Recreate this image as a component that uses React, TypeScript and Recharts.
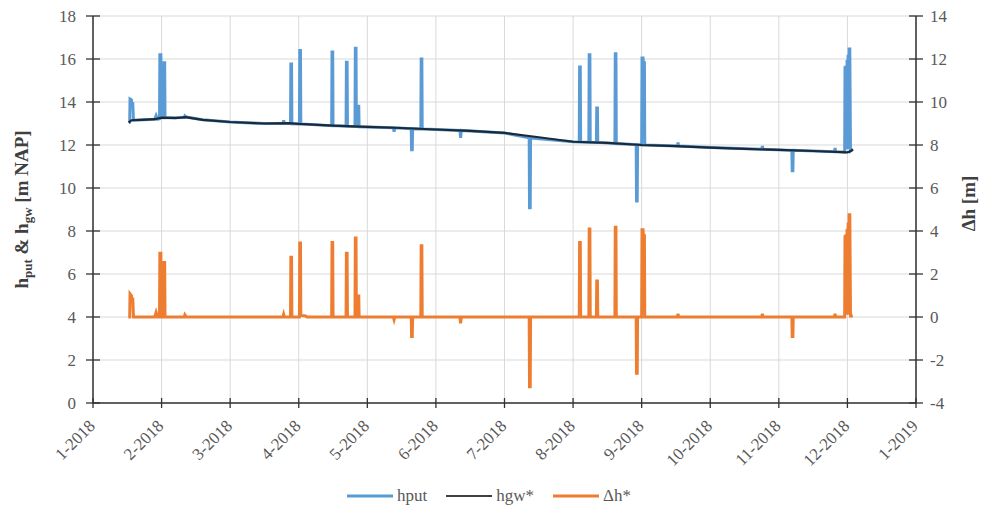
import React from 'react';
import { LineChart, Line, XAxis, YAxis, CartesianGrid, Legend } from 'recharts';

// x = months since 1-2018 (the axis spaces months evenly)
const monthLabels = ['1-2018', '2-2018', '3-2018', '4-2018', '5-2018', '6-2018', '7-2018', '8-2018', '9-2018', '10-2018', '11-2018', '12-2018', '1-2019'];
const leftTicks = [0, 2, 4, 6, 8, 10, 12, 14, 16, 18];
const rightTicks = [-4, -2, 0, 2, 4, 6, 8, 10, 12, 14];

const hgwPts: number[][] = [
  [0.52, 13.04], [0.56, 13.15], [0.7, 13.17], [0.9, 13.2], [1.0, 13.27], [1.2, 13.25], [1.35, 13.3],
  [1.6, 13.17], [2.0, 13.07], [2.5, 13.0], [2.85, 13.02], [3.0, 12.98], [3.5, 12.9], [4.0, 12.84],
  [4.5, 12.79], [5.0, 12.72], [5.5, 12.66], [6.0, 12.56], [6.5, 12.36], [7.0, 12.15], [7.5, 12.1],
  [8.0, 12.0], [8.5, 11.95], [9.0, 11.88], [9.5, 11.82], [10.0, 11.77], [10.5, 11.72], [11.0, 11.66],
  [11.05, 11.72], [11.08, 11.8],
];

const hputPts: number[][] = [
  [0.52, 13.04], [0.535, 13.06], [0.54, 14.14], [0.56, 14.1], [0.565, 13.93], [0.58, 13.93], [0.59, 13.15],
  [0.9, 13.2], [0.92, 13.37], [0.94, 13.2],
  [0.97, 13.22], [0.975, 16.2], [0.99, 16.2], [0.995, 13.27], [1.03, 13.27], [1.035, 15.82], [1.045, 15.82], [1.05, 13.27],
  [1.33, 13.28], [1.34, 13.35], [1.36, 13.3],
  [1.6, 13.17], [2.0, 13.07], [2.5, 13.0],
  [2.77, 13.0], [2.78, 13.15], [2.79, 13.0],
  [2.88, 13.0], [2.885, 15.77], [2.895, 15.77], [2.9, 12.99],
  [3.01, 12.98], [3.015, 16.4], [3.025, 16.4], [3.03, 12.98],
  [3.48, 12.9], [3.485, 16.33], [3.495, 16.33], [3.5, 12.9],
  [3.69, 12.88], [3.695, 15.85], [3.705, 15.85], [3.71, 12.87],
  [3.82, 12.86], [3.825, 16.5], [3.835, 16.5], [3.84, 12.86], [3.86, 12.86], [3.865, 13.8], [3.875, 13.8], [3.88, 12.85],
  [4.0, 12.84],
  [4.38, 12.8], [4.39, 12.62], [4.4, 12.8],
  [4.64, 12.76], [4.645, 11.78], [4.655, 11.78], [4.66, 12.76],
  [4.78, 12.75], [4.785, 16.0], [4.795, 16.0], [4.8, 12.74],
  [5.0, 12.72],
  [5.35, 12.68], [5.36, 12.33], [5.37, 12.68],
  [6.0, 12.56],
  [6.36, 12.34], [6.365, 9.08], [6.375, 9.08], [6.38, 12.32],
  [7.0, 12.15],
  [7.09, 12.14], [7.095, 15.63], [7.105, 15.63], [7.11, 12.14],
  [7.23, 12.13], [7.235, 16.2], [7.245, 16.2], [7.25, 12.13],
  [7.34, 12.12], [7.345, 13.72], [7.355, 13.72], [7.36, 12.12],
  [7.61, 12.07], [7.615, 16.25], [7.625, 16.25], [7.63, 12.07],
  [7.92, 12.02], [7.925, 9.4], [7.935, 9.4], [7.94, 12.02],
  [8.0, 12.0], [8.005, 16.05], [8.02, 16.05], [8.025, 15.82], [8.04, 15.82], [8.045, 12.0],
  [8.52, 11.95], [8.53, 12.12], [8.54, 11.95],
  [9.0, 11.88],
  [9.75, 11.8], [9.76, 11.95], [9.77, 11.8],
  [10.19, 11.75], [10.195, 10.8], [10.205, 10.8], [10.21, 11.75],
  [10.81, 11.69], [10.82, 11.86], [10.83, 11.69],
  [10.96, 11.67], [10.965, 15.66], [10.975, 11.8], [10.98, 15.7], [10.99, 11.8], [10.995, 15.97],
  [11.005, 11.8], [11.01, 16.2], [11.02, 11.8], [11.025, 16.47], [11.035, 16.47], [11.045, 11.72], [11.08, 11.8],
];

const dhPts: number[][] = [
  [0.515, 0], [0.535, 0], [0.54, 1.08], [0.56, 1.0], [0.565, 0.84], [0.58, 0.84], [0.59, 0],
  [0.9, 0], [0.92, 0.22], [0.94, 0],
  [0.97, 0], [0.975, 2.97], [0.99, 2.97], [0.995, 0], [1.03, 0], [1.035, 2.54], [1.045, 2.54], [1.05, 0],
  [1.33, 0], [1.34, 0.1], [1.36, 0],
  [2.77, 0], [2.78, 0.12], [2.79, 0],
  [2.88, 0], [2.885, 2.78], [2.895, 2.78], [2.9, 0],
  [3.01, 0], [3.015, 3.44], [3.025, 3.44], [3.03, 0.07], [3.1, 0.05], [3.12, 0],
  [3.48, 0], [3.485, 3.47], [3.495, 3.47], [3.5, 0],
  [3.69, 0], [3.695, 2.97], [3.705, 2.97], [3.71, 0],
  [3.82, 0], [3.825, 3.67], [3.835, 3.67], [3.84, 0], [3.86, 0], [3.865, 0.98], [3.875, 0.98], [3.88, 0],
  [4.38, 0], [4.39, -0.12], [4.4, 0],
  [4.64, 0], [4.645, -0.91], [4.655, -0.91], [4.66, 0],
  [4.78, 0], [4.785, 3.31], [4.795, 3.31], [4.8, 0],
  [5.35, 0], [5.36, -0.29], [5.37, 0],
  [6.36, 0], [6.365, -3.24], [6.375, -3.24], [6.38, 0],
  [7.09, 0], [7.095, 3.47], [7.105, 3.47], [7.11, 0],
  [7.23, 0], [7.235, 4.09], [7.245, 4.09], [7.25, 0],
  [7.34, 0], [7.345, 1.68], [7.355, 1.68], [7.36, 0],
  [7.61, 0], [7.615, 4.18], [7.625, 4.18], [7.63, 0],
  [7.92, 0], [7.925, -2.62], [7.935, -2.62], [7.94, 0],
  [8.0, 0], [8.005, 4.06], [8.02, 4.06], [8.025, 3.78], [8.04, 3.78], [8.045, 0],
  [8.52, 0], [8.53, 0.15], [8.54, 0],
  [9.75, 0], [9.76, 0.15], [9.77, 0],
  [10.19, 0], [10.195, -0.91], [10.205, -0.91], [10.21, 0],
  [10.81, 0], [10.82, 0.15], [10.83, 0],
  [10.96, 0], [10.965, 3.8], [10.975, 0.1], [10.98, 3.85], [10.99, 0.1], [10.995, 4.1],
  [11.005, 0.1], [11.01, 4.4], [11.02, 0.1], [11.025, 4.76], [11.035, 4.76], [11.045, 0.05], [11.08, 0.05],
];

const legendItems = [
  { name: 'hput', color: '#5b9bd5' },
  { name: 'hgw*', color: '#404040' },
  { name: 'Δh*', color: '#ed7d31' },
];

const toRows = (pts: number[][]) => pts.map(([t, v]) => ({ t, v }));

const FONT = '"Liberation Serif", "Times New Roman", serif';
const TICK_COLOR = '#595959';
const AXIS_COLOR = '#333333';

const XTick = (props: any) => {
  const { x, y, payload } = props;
  const label = monthLabels[payload.value];
  const tx = x + 3;
  const ty = y + 24;
  return (
    <g>
      <line x1={x} y1={y - 5} x2={x} y2={y + 5} stroke={AXIS_COLOR} strokeWidth={1.3} />
      <text x={tx} y={ty} transform={`rotate(-45, ${tx}, ${ty})`} textAnchor="end" fontSize={17} fontFamily={FONT} fill={TICK_COLOR}>
        {label}
      </text>
    </g>
  );
};

const LeftTick = (props: any) => {
  const { x, y, payload } = props;
  return (
    <g>
      <line x1={x - 7} y1={y} x2={x + 7} y2={y} stroke={AXIS_COLOR} strokeWidth={1.3} />
      <text x={x - 17} y={y} dy="0.35em" textAnchor="end" fontSize={17} fontFamily={FONT} fill={TICK_COLOR}>
        {payload.value}
      </text>
    </g>
  );
};

const RightTick = (props: any) => {
  const { x, y, payload } = props;
  return (
    <g>
      <line x1={x - 7} y1={y} x2={x + 7} y2={y} stroke={AXIS_COLOR} strokeWidth={1.3} />
      <text x={x + 14} y={y} dy="0.35em" textAnchor="start" fontSize={17} fontFamily={FONT} fill={TICK_COLOR}>
        {payload.value}
      </text>
    </g>
  );
};

const LeftTitle = (props: any) => {
  const vb = props.viewBox || { x: 0, y: 16, width: 93, height: 387 };
  const cx = vb.x + 21;
  const cy = vb.y + vb.height / 2;
  return (
    <text x={cx} y={cy} transform={`rotate(-90, ${cx}, ${cy})`} textAnchor="middle" dy="0.35em" fontSize={19} fontWeight="bold" fontFamily={FONT} fill="#404040">
      h<tspan fontSize={13} dy={4}>put</tspan>
      <tspan dy={-4}> &amp; h</tspan>
      <tspan fontSize={13} dy={4}>gw</tspan>
      <tspan dy={-4}> [m NAP]</tspan>
    </text>
  );
};

const RightTitle = (props: any) => {
  const vb = props.viewBox || { x: 916, y: 16, width: 71, height: 387 };
  const cx = vb.x + 52;
  const cy = vb.y + vb.height / 2 - 6;
  return (
    <text x={cx} y={cy} transform={`rotate(-90, ${cx}, ${cy})`} textAnchor="middle" dy="0.35em" fontSize={19} fontWeight="bold" fontFamily={FONT} fill="#404040">
      Δh [m]
    </text>
  );
};

const LegendContent = () => (
  <div style={{ display: 'flex', justifyContent: 'center', alignItems: 'center', height: 30, paddingLeft: 8, fontFamily: FONT, fontSize: 17, color: TICK_COLOR }}>
    {legendItems.map((item) => (
      <div key={item.name} style={{ display: 'flex', alignItems: 'center', marginRight: 18 }}>
        <svg width={48} height={6} style={{ marginRight: 3 }}>
          <line x1={1} y1={3} x2={47} y2={3} stroke={item.color} strokeWidth={item.name === 'hgw*' ? 2 : 3} />
        </svg>
        <span>{item.name}</span>
      </div>
    ))}
  </div>
);

export default function App() {
  return (
    <div style={{ position: 'absolute', left: 0, top: 0, width: 987, height: 511, background: '#fff' }}>
      <LineChart width={987} height={511} margin={{ top: 16, right: 0, bottom: 0, left: 0 }}>
        <CartesianGrid yAxisId="left" stroke="#d9d9d9" strokeWidth={1} />
        <XAxis
          dataKey="t"
          type="number"
          domain={[0, 12]}
          ticks={monthLabels.map((_, i) => i)}
          allowDataOverflow
          height={78}
          tick={<XTick />}
          tickLine={false}
          tickSize={0}
          tickMargin={0}
          axisLine={{ stroke: AXIS_COLOR, strokeWidth: 1.5 }}
          interval={0}
        />
        <YAxis
          yAxisId="left"
          orientation="left"
          domain={[0, 18]}
          ticks={leftTicks}
          width={93}
          tick={<LeftTick />}
          tickLine={false}
          tickSize={0}
          tickMargin={0}
          axisLine={{ stroke: AXIS_COLOR, strokeWidth: 1.5 }}
          interval={0}
          label={LeftTitle}
        />
        <YAxis
          yAxisId="right"
          orientation="right"
          domain={[-4, 14]}
          ticks={rightTicks}
          width={71}
          tick={<RightTick />}
          tickLine={false}
          tickSize={0}
          tickMargin={0}
          axisLine={{ stroke: AXIS_COLOR, strokeWidth: 1.5 }}
          interval={0}
          label={RightTitle}
        />
        <Legend verticalAlign="bottom" content={<LegendContent />} />
        <Line yAxisId="left" data={toRows(hputPts)} dataKey="v" name="hput" type="linear" stroke="#5b9bd5" strokeWidth={3} dot={false} isAnimationActive={false} />
        <Line yAxisId="left" data={toRows(hgwPts)} dataKey="v" name="hgw*" type="linear" stroke="#1c2a38" strokeWidth={2.2} dot={false} isAnimationActive={false} />
        <Line yAxisId="right" data={toRows(dhPts)} dataKey="v" name="Δh*" type="linear" stroke="#ed7d31" strokeWidth={3} dot={false} isAnimationActive={false} />
      </LineChart>
    </div>
  );
}
